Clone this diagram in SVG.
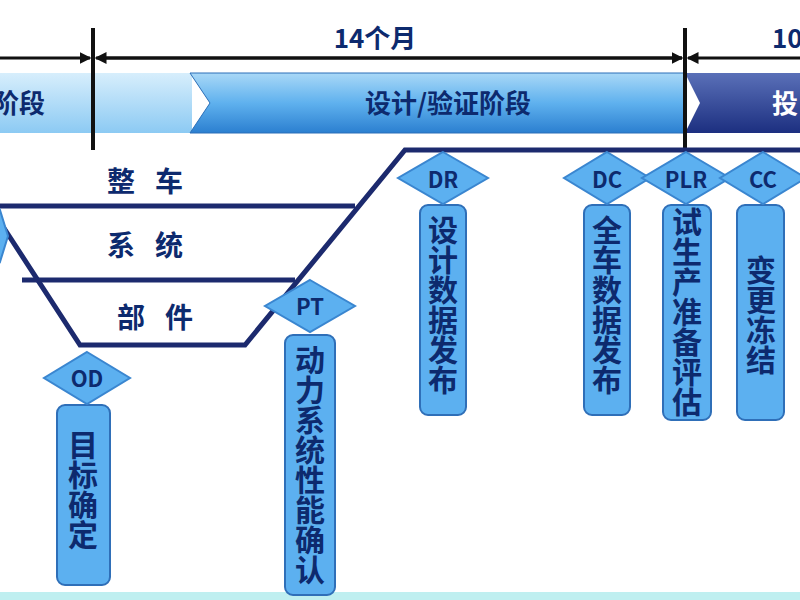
<svg xmlns="http://www.w3.org/2000/svg" width="800" height="600" viewBox="0 0 800 600">
<defs>
<linearGradient id="band" x1="0" y1="0" x2="0" y2="1"><stop offset="0" stop-color="#a9d8f7"/><stop offset="0.5" stop-color="#5fb1ee"/><stop offset="1" stop-color="#2b7fd0"/></linearGradient>
<linearGradient id="lband" x1="0" y1="0" x2="0" y2="1"><stop offset="0" stop-color="#d7eefc"/><stop offset="1" stop-color="#8ccaf3"/></linearGradient>
<linearGradient id="dband" x1="0" y1="0" x2="0" y2="1"><stop offset="0" stop-color="#5a70b8"/><stop offset="1" stop-color="#1c2f80"/></linearGradient>
<marker id="ar" markerWidth="4" markerHeight="4" refX="3.5" refY="2" orient="auto"><path d="M0,0L4,2L0,4z" fill="#111"/></marker>
</defs>
<style>
.t{font-family:"Noto Sans CJK SC","Liberation Sans",sans-serif;font-weight:bold;fill:#0d2a6e}
.dm{fill:#5cb0f0;stroke:#3a86d0;stroke-width:2}
.bx{fill:#5cb0f0;stroke:#2f6fb8;stroke-width:2}
.ln{stroke:#1c2a6e;stroke-width:5;fill:none}
</style>
<rect width="800" height="600" fill="#fff"/>
<rect x="0" y="592" width="800" height="8" fill="#bfeff0"/>
<rect x="0" y="73" width="192" height="60" fill="url(#lband)"/>
<polygon points="190,73 685,73 685,133 190,133 210,103" fill="url(#band)" stroke="#2b6fb8"/>
<polygon points="685,73 800,73 800,133 685,133 700,103" fill="url(#dband)"/>
<text class="t" x="45" y="113" font-size="26" text-anchor="end">阶段</text>
<text class="t" x="448" y="113" font-size="26" text-anchor="middle" fill="#1a2a55">设计/验证阶段</text>
<text x="772" y="113" font-size="26" font-weight="bold" font-family="Noto Sans CJK SC,sans-serif" fill="#fff">投</text>
<g id="connectors" stroke="#111" stroke-width="3">
<line x1="0" y1="58" x2="90" y2="58" marker-end="url(#ar)"/>
<line x1="98" y1="58" x2="682" y2="58" marker-end="url(#ar)"/>
<line x1="682" y1="58" x2="96" y2="58" marker-end="url(#ar)"/>
<line x1="800" y1="58" x2="688" y2="58" marker-end="url(#ar)"/>
<line x1="93" y1="28" x2="93" y2="150" stroke-width="4"/>
<line x1="685" y1="28" x2="685" y2="150" stroke-width="4"/>
</g>
<text class="t" x="375" y="48" font-size="26" text-anchor="middle" fill="#111">14个月</text>
<text class="t" x="772" y="48" font-size="26" fill="#111">10个月</text>
<g id="funnel">
<polyline class="ln" points="800,150 405,150 245,345 80,345 0,222"/>
<line class="ln" x1="0" y1="206" x2="355" y2="206"/>
<line class="ln" x1="22" y1="280" x2="295" y2="280"/>
<text class="t" x="155" y="192" font-size="28" text-anchor="middle" letter-spacing="20">整车</text>
<text class="t" x="155" y="256" font-size="28" text-anchor="middle" letter-spacing="20">系统</text>
<text class="t" x="165" y="328" font-size="28" text-anchor="middle" letter-spacing="20">部件</text>
</g>
<polygon class="dm" points="-40,236 0,210 8,236 0,262"/>
<g id="OD"><rect class="bx" x="57" y="405" width="53" height="180" rx="8"/><polygon class="dm" points="87,352 130,378 87,404 44,378"/><text class="t" x="87" y="387" font-size="22" text-anchor="middle">OD</text><text class="t" x="83" y="430" font-size="30" writing-mode="tb">目标确定</text></g>
<g id="PT"><rect class="bx" x="285" y="335" width="50" height="260" rx="8"/><polygon class="dm" points="310,280 355,306 310,332 265,306"/><text class="t" x="310" y="315" font-size="22" text-anchor="middle">PT</text><text class="t" x="310" y="345" font-size="30" writing-mode="tb">动力系统性能确认</text></g>
<g id="DR"><rect class="bx" x="420" y="205" width="46" height="210" rx="8"/><polygon class="dm" points="443,152 488,178 443,204 398,178"/><text class="t" x="443" y="188" font-size="22" text-anchor="middle">DR</text><text class="t" x="443" y="215" font-size="30" writing-mode="tb">设计数据发布</text></g>
<g id="DC"><rect class="bx" x="584" y="205" width="46" height="210" rx="8"/><polygon class="dm" points="607,152 650,178 607,204 564,178"/><text class="t" x="607" y="188" font-size="22" text-anchor="middle">DC</text><text class="t" x="607" y="215" font-size="30" writing-mode="tb">全车数据发布</text></g>
<g id="PLR"><rect class="bx" x="663" y="205" width="48" height="215" rx="8"/><polygon class="dm" points="686,152 730,178 686,204 642,178"/><text class="t" x="686" y="188" font-size="22" text-anchor="middle">PLR</text><text class="t" x="687" y="207" font-size="30" writing-mode="tb">试生产准备评估</text></g>
<g id="CC"><rect class="bx" x="737" y="205" width="47" height="215" rx="8"/><polygon class="dm" points="763,152 806,178 763,204 720,178"/><text class="t" x="763" y="188" font-size="22" text-anchor="middle">CC</text><text class="t" x="761" y="255" font-size="30" writing-mode="tb">变更冻结</text></g>
</svg>
